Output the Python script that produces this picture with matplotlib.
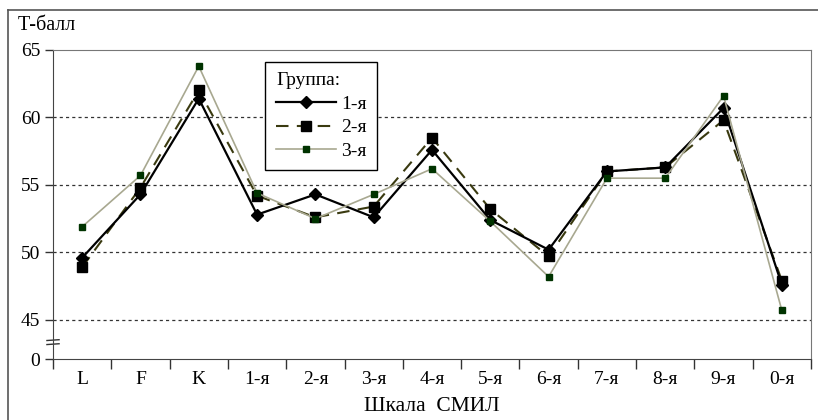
import numpy as np
from matplotlib import pyplot as plt
from matplotlib.lines import Line2D
import matplotlib.transforms as mtransforms

plt.rcParams['font.family'] = ['Liberation Serif', 'DejaVu Serif']

scales = ['L', 'F', 'K', '1-я', '2-я', '3-я', '4-я', '5-я', '6-я', '7-я', '8-я', '9-я', '0-я']
group1 = [49.6, 54.3, 61.4, 52.8, 54.3, 52.6, 57.6, 52.4, 50.2, 56.0, 56.3, 60.7, 47.6]
group2 = [48.9, 54.8, 62.0, 54.2, 52.6, 53.4, 58.5, 53.2, 49.7, 56.0, 56.3, 59.8, 47.9]
group3 = [51.9, 55.7, 63.8, 54.4, 52.5, 54.3, 56.2, 52.3, 48.2, 55.5, 55.5, 61.6, 45.7]
labels = ['1-я', '2-я', '3-я']
y_ticks = [45, 50, 55, 60, 65]
y_zero = 42.1  # where the broken axis puts "0"

fig = plt.figure(figsize=(8.18, 4.2), dpi=100)
ax = fig.add_axes([53 / 818, 61 / 420, 758 / 818, 309 / 420])

x = np.arange(len(scales))
ax.plot(x, group1, color='black', lw=1.6, marker='D', ms=6.5, mfc='black', mec='black',
        label=labels[0], zorder=5)
ax.plot(x, group2, color='#3a3a10', lw=1.5, ls=(0, (6, 4)), marker='s', ms=7.5,
        mfc='black', mec='black', label=labels[1], zorder=4)
ax.plot(x, group3, color='#a8a890', lw=1.2, marker='s', ms=4.5, mfc='#003300',
        mec='#003300', label=labels[2], zorder=6)

ax.set_xlim(-0.5, len(scales) - 0.5)
ax.set_ylim(y_zero, 65)
ax.set_xticks(np.arange(-0.5, len(scales)), [''] * (len(scales) + 1))
ax.set_xticks(x, scales, minor=True)
ax.tick_params(axis='x', which='major', length=7, width=1, color='#333333', direction='out')
ax.tick_params(axis='x', which='minor', length=0, pad=9, labelsize=14)
ax.set_yticks([y_zero] + y_ticks, ['0'] + [str(v) for v in y_ticks])
ax.tick_params(axis='y', length=6, width=1, color='#333333', labelsize=14, pad=3)

for v in y_ticks[:-1]:
    ax.axhline(v, color='#333333', lw=0.9, ls=(0, (2.5, 2.5)), zorder=1)

for s in ['top', 'right']:
    ax.spines[s].set_color('#777777')
for s in ['left', 'bottom']:
    ax.spines[s].set_color('#444444')

# axis break marks
trans = mtransforms.blended_transform_factory(ax.transAxes, ax.transData)
for yy in [43.2, 43.5]:
    ax.plot([-0.008, 0.008], [yy - 0.03, yy + 0.03], color='#333333', lw=1,
            transform=trans, clip_on=False)

ax.set_xlabel('Шкала  СМИЛ', fontsize=15.5, labelpad=6)
fig.text(18 / 818, 1 - 26 / 420, 'Т-балл', fontsize=14.5, va='center', ha='left')

leg = ax.legend(title='Группа:', loc='upper left', bbox_to_anchor=(0.28, 0.962),
                borderaxespad=0, fontsize=14, title_fontsize=14, handlelength=3.1,
                handletextpad=0.25, labelspacing=0.3, fancybox=False, framealpha=1,
                edgecolor='black', borderpad=0.55)
leg._legend_box.align = 'left'
leg.get_frame().set_linewidth(1)

# outer frame of the picture
fig.add_artist(Line2D([8 / 818, 8 / 818], [0, 1 - 10 / 420], color='#555555', lw=1.2))
fig.add_artist(Line2D([8 / 818, 1], [1 - 10 / 420, 1 - 10 / 420], color='#555555', lw=1.2))

fig.savefig('out.png', dpi=100)
